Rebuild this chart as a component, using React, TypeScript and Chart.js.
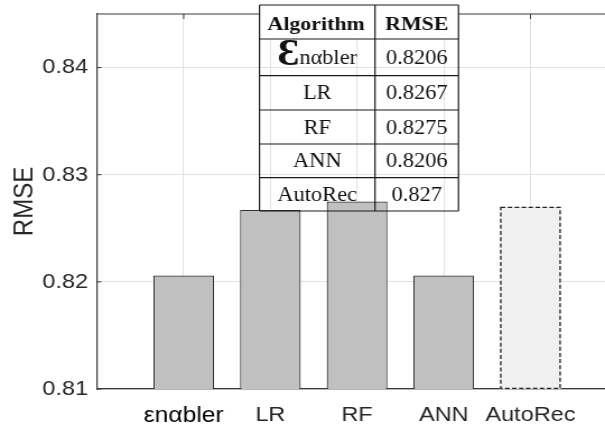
import React, { useEffect, useRef } from "react";
import { Chart, registerables } from "chart.js";

Chart.register(...registerables);

const categories = ["εnαbler", "LR", "RF", "ANN", "AutoRec"];
const tableNames = ["Ɛnαbler", "LR", "RF", "ANN", "AutoRec"];
const rmse = [0.8206, 0.8267, 0.8275, 0.8206, 0.827];
const yTicks = [0.81, 0.82, 0.83, 0.84];
const tableHeader = ["Algorithm", "RMSE"];
const barFills = ["#c0c0c0", "#c0c0c0", "#c0c0c0", "#c0c0c0", "#f0f0f0"];
const dashedBars = [false, false, false, false, true];

const AXIS = "#3a3a3a";
const TEXT = "#262626";
const W = 540; // drawing width, shown stretched to 605 px
const H = 428;
const S = 605 / W;

const framePlugin = {
  id: "frame",
  beforeDatasetsDraw(chart: any) {
    const { ctx, chartArea } = chart;
    const { left, right, top, bottom } = chartArea;
    const xs = chart.scales.x;
    const ys = chart.scales.y;
    ctx.save();
    ctx.strokeStyle = AXIS;
    ctx.lineWidth = 1.2;
    ctx.beginPath();
    ctx.moveTo(left, top);
    ctx.lineTo(right, top);
    ctx.stroke();
    ctx.lineWidth = 1;
    categories.forEach((_, i) => {
      const x = xs.getPixelForValue(i + 1);
      ctx.beginPath();
      ctx.moveTo(x, top);
      ctx.lineTo(x, top + 5);
      ctx.moveTo(x, bottom);
      ctx.lineTo(x, bottom - 5);
      ctx.stroke();
    });
    yTicks.forEach((v) => {
      const y = ys.getPixelForValue(v);
      ctx.beginPath();
      ctx.moveTo(left, y);
      ctx.lineTo(left + 4, y);
      ctx.stroke();
    });
    ctx.restore();
  },
  afterDatasetsDraw(chart: any) {
    const { ctx, chartArea } = chart;
    const meta = chart.getDatasetMeta(0);
    ctx.save();
    meta.data.forEach((bar: any, i: number) => {
      if (!dashedBars[i]) return;
      const p = bar.getProps(["x", "y", "base", "width"], true);
      const base = Math.min(p.base, chartArea.bottom);
      ctx.strokeStyle = "#222";
      ctx.lineWidth = 1.3;
      ctx.setLineDash([4, 2.2]);
      ctx.strokeRect(p.x - p.width / 2 + 0.6, p.y + 0.6, p.width - 1.2, base - p.y - 1.2);
    });
    ctx.restore();
  },
  afterDraw(chart: any) {
    const { ctx } = chart;
    const colX = [259.5 / S, 375 / S, 458.5 / S];
    const rowY = [5, 39, 75.7, 110, 144, 177.7, 211];
    ctx.save();
    ctx.fillStyle = "#fff";
    ctx.fillRect(colX[0], rowY[0], colX[2] - colX[0], rowY[1] - rowY[0]);
    ctx.strokeStyle = "#1a1a1a";
    ctx.lineWidth = 1.2;
    ctx.beginPath();
    colX.forEach((x) => {
      ctx.moveTo(x, rowY[0]);
      ctx.lineTo(x, rowY[rowY.length - 1]);
    });
    rowY.forEach((y) => {
      ctx.moveTo(colX[0], y);
      ctx.lineTo(colX[2], y);
    });
    ctx.stroke();
    const c1 = (colX[0] + colX[1]) / 2;
    const c2 = (colX[1] + colX[2]) / 2;
    const body = "20px 'Liberation Serif'";
    const big = "bold 37px 'Liberation Serif'";
    ctx.fillStyle = "#111";
    ctx.textAlign = "center";
    ctx.textBaseline = "alphabetic";
    ctx.font = "bold 19.5px 'Liberation Serif'";
    const hy = (rowY[0] + rowY[1]) / 2 + 7.5;
    ctx.fillText(tableHeader[0], c1 - 1, hy);
    ctx.fillText(tableHeader[1], c2, hy);
    tableNames.forEach((name, i) => {
      const cy = (rowY[i + 1] + rowY[i + 2]) / 2 + 6.5;
      ctx.font = body;
      if (i === 0) {
        const first = name.charAt(0);
        const rest = name.slice(1);
        ctx.font = big;
        const w1 = ctx.measureText(first).width;
        ctx.font = body;
        const w2 = ctx.measureText(rest).width;
        const start = c1 - (w1 + w2) / 2;
        ctx.textAlign = "left";
        ctx.font = big;
        ctx.fillText(first, start, cy + 1.5);
        ctx.font = body;
        ctx.fillText(rest, start + w1, cy);
        ctx.textAlign = "center";
      } else {
        ctx.fillText(name, c1, cy);
      }
      ctx.fillText(String(rmse[i]), c2, cy);
    });
    ctx.restore();
  },
};

export default function App() {
  const ref = useRef<HTMLCanvasElement | null>(null);
  useEffect(() => {
    if (!ref.current) return;
    const chart = new Chart(ref.current, {
      type: "bar",
      data: {
        datasets: [
          {
            data: rmse.map((v, i) => ({ x: i + 1, y: v })),
            backgroundColor: barFills,
            borderColor: ["#333", "#333", "#333", "#333", "rgba(0,0,0,0)"],
            borderWidth: [1.2, 1.2, 1.2, 1.2, 0],
            categoryPercentage: 1,
            barPercentage: 0.7,
          },
        ],
      },
      options: {
        animation: false,
        responsive: false,
        devicePixelRatio: 1,
        layout: { padding: { left: 7, top: 14, right: 0, bottom: 0 } },
        plugins: { legend: { display: false }, tooltip: { enabled: false } },
        scales: {
          x: {
            type: "linear",
            offset: false,
            min: 0,
            max: 5.86,
            afterBuildTicks: (scale: any) => {
              scale.ticks = categories.map((_, i) => ({ value: i + 1 }));
            },
            afterFit: (scale: any) => {
              scale.height = 39;
              scale.paddingLeft = 0;
              scale.paddingRight = 0;
            },
            ticks: {
              autoSkip: false,
              maxRotation: 0,
              padding: 14,
              color: (c: any) => (c.index === 0 ? "#000" : TEXT),
              font: (c: any) => ({ family: "'Liberation Sans'", size: c.index === 0 ? 22 : 21 }),
              callback: (v: any) => categories[Math.round(Number(v)) - 1] ?? "",
            },
            grid: { color: "#e2e2e2", drawTicks: false, lineWidth: 1, offset: false },
            border: { display: true, color: AXIS, width: 1.2 },
          },
          y: {
            min: 0.81,
            max: 0.845,
            afterBuildTicks: (scale: any) => {
              scale.ticks = yTicks.map((v) => ({ value: v }));
            },
            afterFit: (scale: any) => {
              scale.width = 97 / S - 7;
              scale.paddingTop = 0;
              scale.paddingBottom = 0;
            },
            ticks: {
              padding: 8,
              color: TEXT,
              font: { family: "'Liberation Sans'", size: 21 },
              callback: (v: any) => Number(v).toFixed(2),
            },
            grid: { color: "#e2e2e2", drawTicks: false, lineWidth: 1 },
            border: { display: true, color: AXIS, width: 1.2 },
            title: {
              display: true,
              text: "RMSE",
              color: TEXT,
              font: { family: "'Liberation Sans'", size: 24 },
              padding: { top: 0.5, bottom: 0 },
            },
          },
        },
      },
      plugins: [framePlugin],
    } as any);
    return () => chart.destroy();
  }, []);
  return (
    <div style={{ position: "absolute", left: 0, top: 0, width: 605, height: H, background: "#fff", overflow: "hidden" }}>
      <canvas ref={ref} width={W} height={H} style={{ width: 605, height: H, display: "block" }} />
    </div>
  );
}
